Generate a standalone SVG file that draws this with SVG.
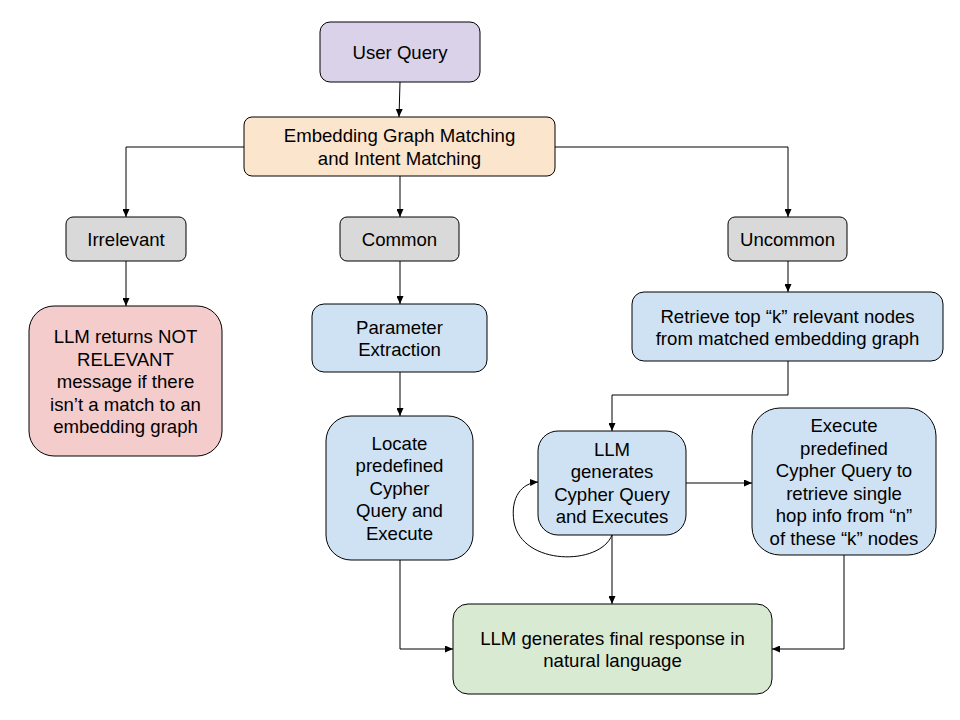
<svg xmlns="http://www.w3.org/2000/svg" width="960" height="720" viewBox="0 0 960 720">
<style>
.n{stroke:#000;stroke-width:1}
.t{font-family:"Liberation Sans",Arial,sans-serif;font-size:18.6px;fill:#000;text-anchor:middle;dominant-baseline:central}
.c{fill:none;stroke:#000;stroke-width:1;marker-end:url(#ah)}
</style>
<defs>
<marker id="ah" markerUnits="userSpaceOnUse" markerWidth="8" markerHeight="7" refX="8" refY="3.5" orient="auto">
<path d="M0,0 L8,3.5 L0,7 z" fill="#000"/>
</marker>
</defs>
<rect width="960" height="720" fill="#fff"/>
<g id="connectors">
<path class="c" d="M400,82 L399,117"/>
<path class="c" d="M244,147 H126 V217"/>
<path class="c" d="M400,176 V217"/>
<path class="c" d="M555,147 H788 V217"/>
<path class="c" d="M126,261 V306"/>
<path class="c" d="M400,261 V304"/>
<path class="c" d="M400,372 V416"/>
<path class="c" d="M788,261 V292"/>
<path class="c" d="M788,361 V395 H612 V431"/>
<path class="c" d="M686,483 H752"/>
<path class="c" d="M612,535 C600,566 522,566 514,522 C510,497 522,483 538,482"/>
<path class="c" d="M400,560 V649 H453"/>
<path class="c" d="M612,535 V604"/>
<path class="c" d="M844,555 V649 H772"/>
</g>
<g id="user-query">
<rect class="n" x="320" y="22" width="160" height="60" rx="10" fill="#d9d2e9"/>
<text class="t" x="400" y="52">User Query</text>
</g>
<g id="embedding">
<rect class="n" x="244" y="117" width="311" height="59" rx="8" fill="#fce5cd"/>
<text class="t" x="399.5" y="135.5">Embedding Graph Matching</text>
<text class="t" x="399.5" y="158">and Intent Matching</text>
</g>
<g id="irrelevant">
<rect class="n" x="66" y="217" width="120" height="44" rx="7" fill="#d9d9d9"/>
<text class="t" x="126" y="239">Irrelevant</text>
</g>
<g id="common">
<rect class="n" x="340" y="217" width="119" height="44" rx="7" fill="#d9d9d9"/>
<text class="t" x="399.5" y="239">Common</text>
</g>
<g id="uncommon">
<rect class="n" x="728" y="217" width="119" height="44" rx="7" fill="#d9d9d9"/>
<text class="t" x="787.5" y="239">Uncommon</text>
</g>
<g id="not-relevant">
<rect class="n" x="29" y="306" width="193" height="150" rx="25" fill="#f4cccc"/>
<text class="t" x="125.5" y="336.5">LLM returns NOT</text>
<text class="t" x="125.5" y="359">RELEVANT</text>
<text class="t" x="125.5" y="381.5">message if there</text>
<text class="t" x="125.5" y="404">isn’t a match to an</text>
<text class="t" x="125.5" y="426.5">embedding graph</text>
</g>
<g id="parameter">
<rect class="n" x="312" y="304" width="175" height="68" rx="12" fill="#cfe2f3"/>
<text class="t" x="399.5" y="327">Parameter</text>
<text class="t" x="399.5" y="349.5">Extraction</text>
</g>
<g id="locate">
<rect class="n" x="326" y="416" width="147" height="144" rx="25" fill="#cfe2f3"/>
<text class="t" x="399.5" y="443">Locate</text>
<text class="t" x="399.5" y="465.5">predefined</text>
<text class="t" x="399.5" y="488">Cypher</text>
<text class="t" x="399.5" y="510.5">Query and</text>
<text class="t" x="399.5" y="533">Execute</text>
</g>
<g id="retrieve">
<rect class="n" x="632" y="292" width="311" height="69" rx="12" fill="#cfe2f3"/>
<text class="t" x="787.5" y="316">Retrieve top “k” relevant nodes</text>
<text class="t" x="787.5" y="338.5">from matched embedding graph</text>
</g>
<g id="llm-generates">
<rect class="n" x="538" y="431" width="148" height="104" rx="20" fill="#cfe2f3"/>
<text class="t" x="612" y="449">LLM</text>
<text class="t" x="612" y="471.5">generates</text>
<text class="t" x="612" y="494">Cypher Query</text>
<text class="t" x="612" y="516.5">and Executes</text>
</g>
<g id="execute">
<rect class="n" x="752" y="408" width="184" height="147" rx="28" fill="#cfe2f3"/>
<text class="t" x="844" y="425.5">Execute</text>
<text class="t" x="844" y="448">predefined</text>
<text class="t" x="844" y="470.5">Cypher Query to</text>
<text class="t" x="844" y="493">retrieve single</text>
<text class="t" x="844" y="515.5">hop info from “n”</text>
<text class="t" x="844" y="538">of these “k” nodes</text>
</g>
<g id="final">
<rect class="n" x="453" y="604" width="319" height="90" rx="15" fill="#d9ead3"/>
<text class="t" x="612.5" y="638">LLM generates final response in</text>
<text class="t" x="612.5" y="660.5">natural language</text>
</g>
</svg>
